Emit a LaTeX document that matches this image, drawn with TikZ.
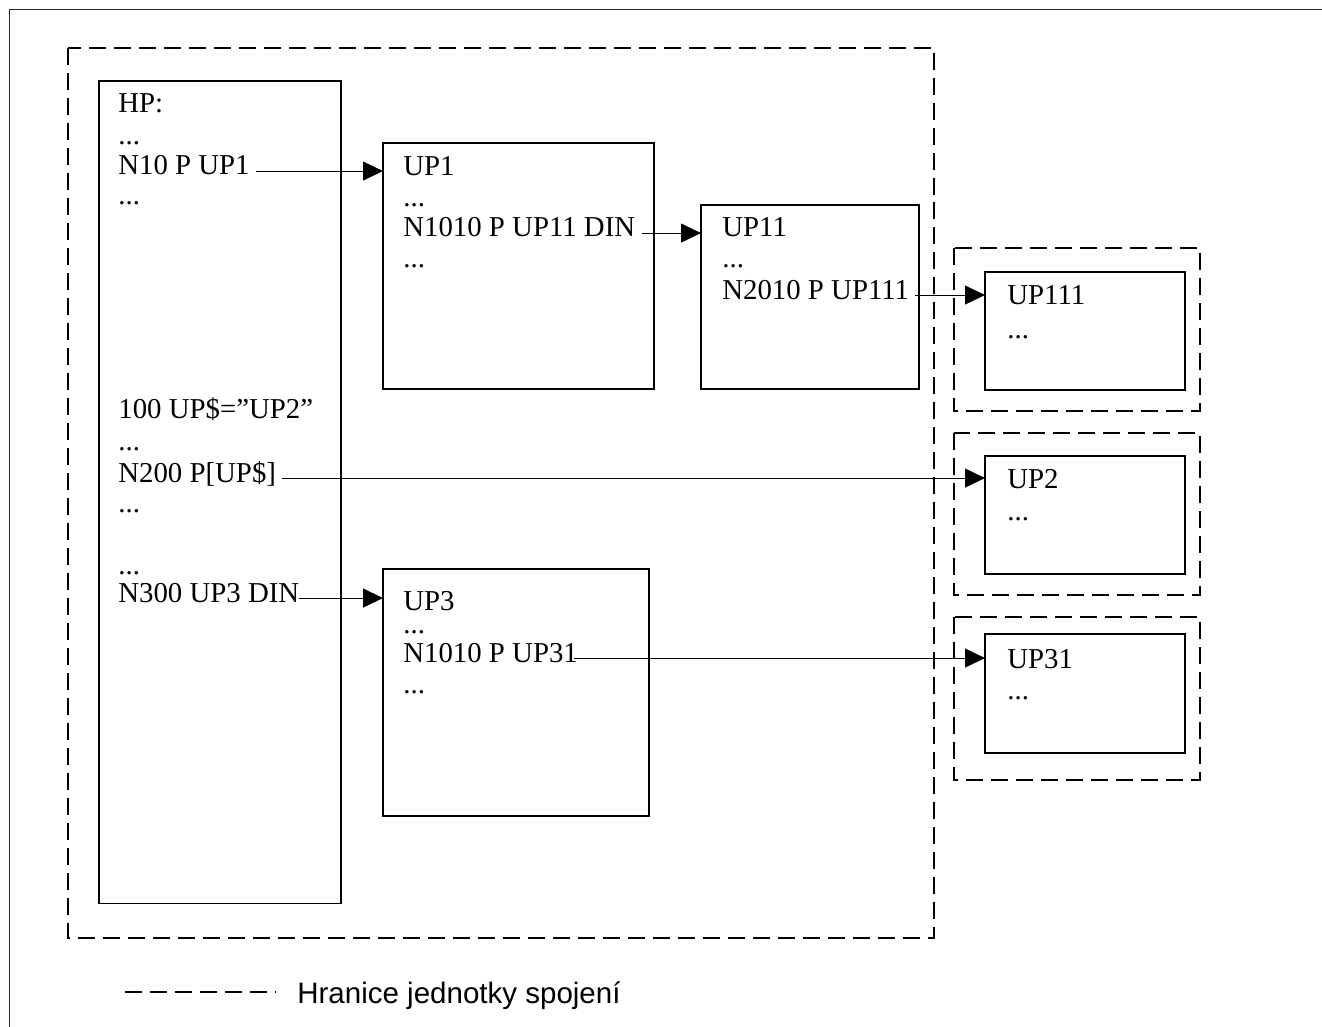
\documentclass[tikz,border=0pt]{standalone}
\usepackage{fontspec}
\setmainfont{Liberation Serif}
\setsansfont{Liberation Sans}
\usepackage{tikz}
\usetikzlibrary{arrows.meta,calc}
\definecolor{myblack}{RGB}{0,0,0}
\definecolor{mygray}{RGB}{40,40,40}

\begin{document}
\begin{tikzpicture}[x=0.02cm,y=-0.02cm,>={Triangle[length=4mm,width=3.8mm]},
  every node/.style={font=\fontsize{16.4}{19}\selectfont}]
\tikzstyle{box}=[draw=myblack,line width=0.7pt,inner sep=0,outer sep=0,anchor=north west]
\tikzstyle{ln}=[anchor=base west,inner xsep=0.12cm,inner ysep=0,text height=0.6em,text depth=0.15em]
\tikzstyle{border}=[line width=1pt,dash pattern=on 0.34cm off 0.16cm]
\tikzstyle{call}=[->,line width=0.6pt,myblack]
\useasboundingbox (0,0) rectangle (1322,1027);
% outer frame
\draw[mygray,line width=0.8pt] (9.5,1027) -- (9.5,9.5) -- (1322,9.5);
% units of linking
\draw[border] (68,48) rectangle (934,938);
\draw[border] (954,248) rectangle (1200,411);
\draw[border] (954,433) rectangle (1200,595);
\draw[border] (954,617) rectangle (1200,780);
% programs
\node[box,minimum width=4.84cm,minimum height=16.46cm] (hp) at (99,81) {};
\node[box,minimum width=5.42cm,minimum height=4.92cm] (up1) at (383,143) {};
\node[box,minimum width=4.36cm,minimum height=3.68cm] (up11) at (701,205) {};
\node[box,minimum width=4.0cm,minimum height=2.36cm] (up111) at (985,272) {};
\node[box,minimum width=4.0cm,minimum height=2.36cm] (up2) at (985,456) {};
\node[box,minimum width=4.0cm,minimum height=2.38cm] (up31) at (985,634) {};
\node[box,minimum width=5.32cm,minimum height=4.94cm] (up3) at (383,569) {};
% main program
\node[ln] (hpA) at (112,113) {HP:};
\node[ln] (hpB) at (112,145) {...};
\node[ln] (hpC) at (112,175) {N10 P UP1};
\node[ln] (hpD) at (112,205) {...};
\node[ln] (hpE) at (112,418) {100 UP\$=”UP2”};
\node[ln] (hpF) at (112,450) {...};
\node[ln] (hpG) at (112,482) {N200 P[UP\$]};
\node[ln] (hpH) at (112,512) {...};
\node[ln] (hpI) at (112,574) {...};
\node[ln] (hpJ) at (112,602) {N300 UP3 DIN};
% subprograms
\node[ln] (up1A) at (397,176) {UP1};
\node[ln] (up1B) at (397,207) {...};
\node[ln] (up1C) at (397,237) {N1010 P UP11 DIN};
\node[ln] (up1D) at (397,268) {...};
\node[ln] (up11A) at (716,237) {UP11};
\node[ln] (up11B) at (716,268) {...};
\node[ln] (up11C) at (716,299) {N2010 P UP111};
\node[ln] (up111A) at (1001,304) {UP111};
\node[ln] (up111B) at (1001,338) {...};
\node[ln] (up2A) at (1001,488) {UP2};
\node[ln] (up2B) at (1001,520) {...};
\node[ln] (up31A) at (1001,668) {UP31};
\node[ln] (up31B) at (1001,699) {...};
\node[ln] (up3A) at (397,610) {UP3};
\node[ln] (up3B) at (397,633) {...};
\node[ln] (up3C) at (397,662) {N1010 P UP31};
\node[ln] (up3D) at (397,693) {...};
% calls
\draw[call] (hpC.east) -- (hpC.east -| up1.west);
\draw[call] (up1C.east) -- (up1C.east -| up11.west);
\draw[call] (up11C.east) -- (up11C.east -| up111.west);
\draw[call] (hpG.east) -- (hpG.east -| up2.west);
\draw[call] ([xshift=-0.14cm]hpJ.east) -- (hpJ.east -| up3.west);
\draw[call] ([xshift=-0.2cm]up3C.east) -- (up3C.east -| up31.west);
% legend
\draw[line width=1pt,dash pattern=on 0.34cm off 0.16cm] (125,992) -- (275,992);
\node[anchor=base west,inner sep=0,font=\sffamily\fontsize{16.8}{19}\selectfont] (leg) at (297,1003) {Hranice jednotky spojení};
\end{tikzpicture}
\end{document}
